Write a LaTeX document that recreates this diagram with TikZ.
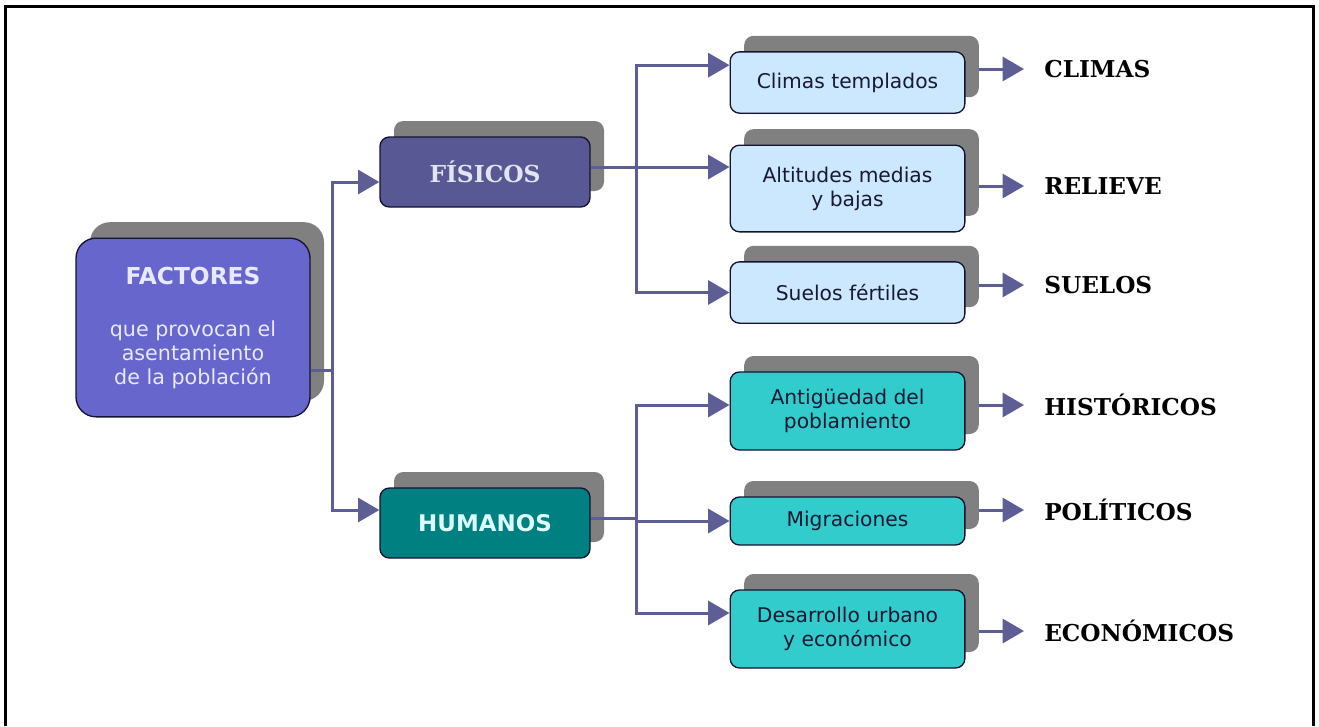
\documentclass[tikz,border=0pt]{standalone}
\usepackage{fontspec}
\setmainfont{DejaVu Sans}
\newfontfamily\labfont{DejaVu Serif}
\usetikzlibrary{shadows,arrows.meta}
\definecolor{factfill}{RGB}{102,102,204}
\definecolor{fisfill}{RGB}{88,88,148}
\definecolor{humfill}{RGB}{0,128,128}
\definecolor{lightfill}{RGB}{204,232,255}
\definecolor{tealfill}{RGB}{51,204,204}
\definecolor{shade}{RGB}{128,128,128}
\definecolor{linkcol}{RGB}{94,94,150}
\definecolor{boxline}{RGB}{20,20,50}
\definecolor{textdark}{RGB}{25,25,50}

\begin{document}
\begin{tikzpicture}[x=0.75pt,y=-0.75pt]
\tikzstyle{every node}+=[inner sep=0pt]
\tikzstyle{box}=[draw=boxline, line width=1pt, rounded corners=7pt, align=center, text=textdark, font=\fontsize{15.2}{18}\selectfont, general shadow={fill=shade, shadow xshift=10.5pt, shadow yshift=12pt}]
\tikzstyle{child}=[box, minimum width=176pt]
\tikzstyle{link}=[linkcol, line width=2.25pt]
\tikzstyle{arrowlink}=[link, -{Triangle[length=16pt,width=18pt]}]
\tikzstyle{lab}=[anchor=west, font=\labfont\bfseries\fontsize{17.4}{20}\selectfont]
\useasboundingbox (0,0) rectangle (1319,726);
\fill[white] (0,0) rectangle (1319,726);
\draw[line width=2.25pt] (5.5,726) -- (5.5,6.5) -- (1313.5,6.5) -- (1313.5,726);
\node[box, fill=factfill, rounded corners=15pt, minimum width=175.5pt, minimum height=134pt, text={rgb,255:red,232;green,232;blue,255}, font=\fontsize{15.5}{18}\selectfont] (fact) at (193,327.5) {{\fontsize{17.5}{20}\selectfont\bfseries FACTORES}\\[21pt]que provocan el\\asentamiento\\de la población};
\node[box, fill=fisfill, minimum width=157.5pt, minimum height=52.5pt, text={rgb,255:red,228;green,228;blue,240}, font=\labfont\bfseries\fontsize{17.5}{20}\selectfont] (fis) at (485,172) {FÍSICOS};
\node[box, fill=humfill, minimum width=157.5pt, minimum height=52.5pt, text={rgb,255:red,220;green,255;blue,255}, font=\bfseries\fontsize{17.2}{20}\selectfont] (hum) at (485,523) {HUMANOS};
\node[child, fill=lightfill, minimum height=46pt] (clim) at (847.5,82.5) {Climas templados};
\node[child, fill=lightfill, minimum height=65pt] (alt) at (847.5,188.5) {Altitudes medias\\y bajas};
\node[child, fill=lightfill, minimum height=46pt] (suel) at (847.5,292.5) {Suelos fértiles};
\node[child, fill=tealfill, minimum height=58.5pt] (anti) at (847.5,411) {Antigüedad del\\poblamiento};
\node[child, fill=tealfill, minimum height=36pt] (migr) at (847.5,521) {Migraciones};
\node[child, fill=tealfill, minimum height=58.5pt] (desa) at (847.5,629) {Desarrollo urbano\\y económico};
\node[lab] (lclim) at (1044,69) {CLIMAS};
\node[lab] (lrel) at (1044,186) {RELIEVE};
\node[lab] (lsue) at (1044,285) {SUELOS};
\node[lab] (lhis) at (1044,405) {HISTÓRICOS};
\node[lab] (lpol) at (1044,510) {POLÍTICOS};
\node[lab] (leco) at (1044,631) {ECONÓMICOS};
\coordinate (jf) at (332,370);
\coordinate (jp) at (636,167);
\coordinate (jh) at (636,518);
\draw[link] (fact.east |- jf) -- (jf);
\draw[arrowlink] (jf) |- ([yshift=-7.5pt]fis.west);
\draw[arrowlink] (jf) |- ([yshift=9.75pt]hum.west);
\draw[link] (fis.east |- jp) -- (jp);
\draw[arrowlink] (jp) |- ([yshift=13pt]clim.west);
\draw[arrowlink] (jp) -- (alt.west |- jp);
\draw[arrowlink] (jp) |- (suel.west);
\draw[link] (hum.east |- jh) -- (jh);
\draw[arrowlink] (jh) |- ([yshift=4.5pt]anti.west);
\draw[arrowlink] (jh) |- (migr.west);
\draw[arrowlink] (jh) |- ([yshift=12pt]desa.west);
\draw[arrowlink] ([xshift=9.75pt]clim.east |- lclim) -- ([xshift=-15pt]lclim.west);
\draw[arrowlink] ([xshift=9.75pt]alt.east |- lrel) -- ([xshift=-15pt]lrel.west);
\draw[arrowlink] ([xshift=9.75pt]suel.east |- lsue) -- ([xshift=-15pt]lsue.west);
\draw[arrowlink] ([xshift=9.75pt]anti.east |- lhis) -- ([xshift=-15pt]lhis.west);
\draw[arrowlink] ([xshift=9.75pt]migr.east |- lpol) -- ([xshift=-15pt]lpol.west);
\draw[arrowlink] ([xshift=9.75pt]desa.east |- leco) -- ([xshift=-15pt]leco.west);
\end{tikzpicture}
\end{document}
